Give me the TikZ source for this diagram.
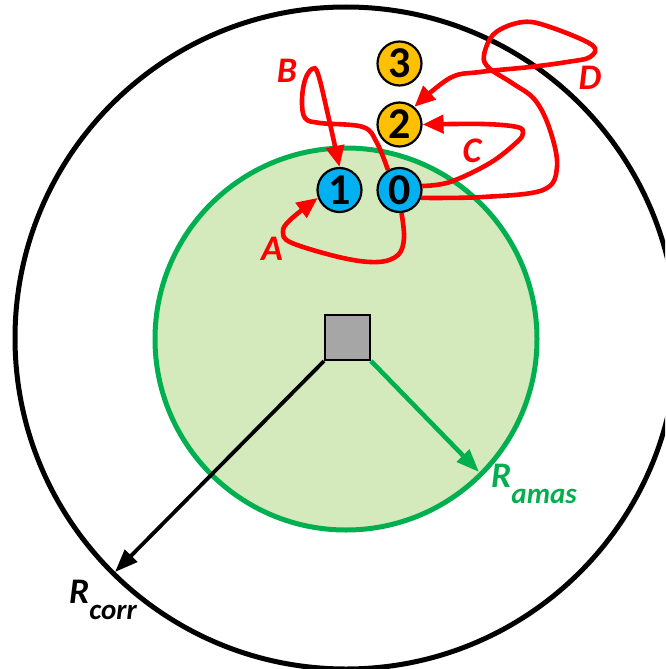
\documentclass[tikz,border=0pt]{standalone}
\usepackage{fontspec}
\setmainfont{Carlito}
\usetikzlibrary{arrows.meta}
\definecolor{cblue}{HTML}{00B0F0}
\definecolor{corange}{HTML}{FFC000}
\definecolor{cgreen}{HTML}{00B050}
\definecolor{cgreenfill}{HTML}{D4EABD}
\definecolor{cgray}{HTML}{A6A6A6}
\tikzset{
  ball/.style={circle,draw=black,line width=2.2pt,minimum size=44pt,inner sep=0pt,
    font=\fontsize{44}{44}\selectfont\bfseries},
  ballin/.style={ball,fill=cblue},
  ballout/.style={ball,fill=corange},
  hop/.style={draw=red,line width=4.6pt,-{Triangle[length=21pt,width=18pt]}},
  hoplbl/.style={text=red,inner sep=0pt,font=\fontsize{36}{36}\selectfont\bfseries\itshape},
  radlbl/.style={inner sep=0pt,anchor=base west,font=\fontsize{36}{36}\selectfont\bfseries\itshape},
  radarrow/.style={line width=3.8pt,-{Triangle[length=23pt,width=17pt]}},
}
\newcommand{\rsub}[1]{\raisebox{-16pt}{\fontsize{29}{29}\selectfont #1}}

\begin{document}
\begin{tikzpicture}[x=1pt,y=-1pt]
\useasboundingbox (0,0) rectangle (665,669);
\clip (0,0) rectangle (665,669);
% correlation and cluster radii
\draw[line width=5pt] (346,338) circle[radius=331pt];
\draw[cgreen,fill=cgreenfill,line width=5pt] (346,339) circle[radius=191pt];
\node[draw,line width=2pt,fill=cgray,minimum size=45pt,inner sep=0pt] (core) at (347.5,337.5) {};
\coordinate (rcorr) at (115,572);
\coordinate (ramas) at (479,472);
\draw[radarrow] (core.south west) -- (rcorr);
\draw[radarrow,cgreen,line width=4.6pt] (core.south east) -- (ramas);
\node[radlbl] (lcorr) at (69,603) {R\rsub{corr}};
\node[radlbl,text=cgreen] (lamas) at (491,487) {R\rsub{amas}};
% sites
\node[ballin] (n1) at (339.5,190) {1};
\node[ballin] (n0) at (399.5,190) {0};
\node[ballout] (n2) at (399.5,124.5) {2};
\node[ballout] (n3) at (399.5,63.5) {3};
% hops
\draw[hop] plot[smooth,tension=0.6] coordinates {(n0.-85) (404,238) (398,255) (378,262)
  (343,258) (292,243) (283,232) (290,220) (n1.-160)};
\draw[hop] plot[smooth,tension=0.6] coordinates {(n0.120) (377,143) (363,127) (320,123)
  (305,118) (302,100) (305,80) (312,69) (318,74) (328,115) (n1.north)};
\draw[hop] plot[smooth,tension=0.6] coordinates {(n0.10) (450,182) (490,163) (517,142)
  (523,133) (517,127) (483,124) (n2.east)};
\draw[hop] plot[smooth,tension=0.6] coordinates {(n0.-20) (483,197) (543,190) (557,167)
  (550,130) (535,100) (512,83) (489,68) (484,55) (495,33) (523,22) (550,27) (592,45)
  (590,57) (567,62) (530,67) (480,72) (450,78) (n2.50)};
\node[hoplbl] (la) at (272,249) {A};
\node[hoplbl] (lb) at (287,71) {B};
\node[hoplbl] (lc) at (472,151) {C};
\node[hoplbl] (ld) at (590,78) {D};
\end{tikzpicture}
\end{document}
